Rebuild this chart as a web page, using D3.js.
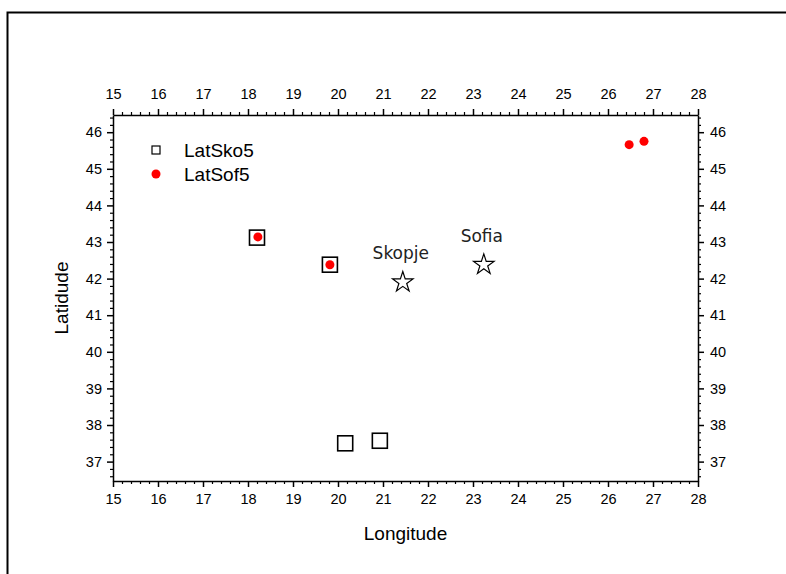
<!DOCTYPE html>
<html><head><meta charset="utf-8">
<script src="https://cdn.jsdelivr.net/npm/d3@7"></script>
<style>body{margin:0;background:#fff}svg{display:block}</style>
</head><body>
<script>
const xTicks = [15,16,17,18,19,20,21,22,23,24,25,26,27,28];
const yTicks = [37,38,39,40,41,42,43,44,45,46];
const skoLon = [18.2, 19.82, 20.16, 20.93];
const skoLat = [43.12, 42.38, 37.5, 37.57];
const sofLon = [18.22, 19.82, 26.47, 26.8];
const sofLat = [43.14, 42.38, 45.66, 45.75];
const cityNames = ["Skopje", "Sofia"];
const cityLon = [21.44, 23.24];
const cityLat = [41.9, 42.38];
const seriesNames = ["LatSko5", "LatSof5"];

const W = 786, H = 574;
const svg = d3.select("body").append("svg").attr("width", W).attr("height", H);
const L = 113, R = 698, T = 115, B = 481;
const x = d3.scaleLinear().domain([15, 28]).range([L, R]);
const y = d3.scaleLinear().domain([36.47, 46.47]).range([B, T]);

// outer frame
svg.append("path").attr("d", `M7.5,${H+5} V12.5 H${W+5}`).attr("fill","none").attr("stroke","#000").attr("stroke-width",2);

const font = "Liberation Sans, Arial, sans-serif";
const minorX = d3.range(15, 28.001, 0.2).map(v => +v.toFixed(2)).filter(v => Math.abs(v - Math.round(v)) > 1e-6);
const minorY = d3.range(36.6, 46.47, 0.2).map(v => +v.toFixed(2)).filter(v => Math.abs(v - Math.round(v)) > 1e-6);

const axes = [
  {fn: d3.axisBottom(x).tickValues(xTicks).tickSize(6).tickSizeOuter(0).tickPadding(7), tr:`translate(0,${B})`, minor: d3.axisBottom(x).tickValues(minorX).tickSize(3).tickFormat("")},
  {fn: d3.axisTop(x).tickValues(xTicks).tickSize(6).tickSizeOuter(0).tickPadding(10), tr:`translate(0,${T})`, minor: d3.axisTop(x).tickValues(minorX).tickSize(3).tickFormat("")},
  {fn: d3.axisLeft(y).tickValues(yTicks).tickSize(6).tickSizeOuter(0).tickPadding(5), tr:`translate(${L},0)`, minor: d3.axisLeft(y).tickValues(minorY).tickSize(3).tickFormat("")},
  {fn: d3.axisRight(y).tickValues(yTicks).tickSize(6).tickSizeOuter(0).tickPadding(6), tr:`translate(${R},0)`, minor: d3.axisRight(y).tickValues(minorY).tickSize(3).tickFormat("")}
];
axes.forEach(a => {
  const gm = svg.append("g").attr("transform", a.tr).call(a.minor);
  gm.select(".domain").remove();
  gm.selectAll(".tick line").attr("stroke","#000").attr("stroke-width",1.2);
  const g = svg.append("g").attr("transform", a.tr).call(a.fn);
  g.selectAll("text").attr("font-family", font).attr("font-size", 14.5).attr("fill", "#000");
  g.selectAll(".domain").attr("stroke","#000").attr("stroke-width",1.5);
  g.selectAll(".tick line").attr("stroke","#000").attr("stroke-width",1.5);
});

// axis titles
svg.append("text").attr("x", (L+R)/2).attr("y", 540).attr("text-anchor","middle")
  .attr("font-family", font).attr("font-size", 19).text("Longitude");
svg.append("text").attr("transform", `translate(68,298) rotate(-90)`).attr("text-anchor","middle")
  .attr("font-family", font).attr("font-size", 19).text("Latidude");

// squares
const sq = 15;
svg.append("g").selectAll("rect").data(skoLon.map((v,i)=>[v, skoLat[i]])).join("rect")
  .attr("x", d => x(d[0]) - sq/2).attr("y", d => y(d[1]) - sq/2)
  .attr("width", sq).attr("height", sq).attr("fill","none").attr("stroke","#000").attr("stroke-width",1.6);
// dots
svg.append("g").selectAll("circle").data(sofLon.map((v,i)=>[v, sofLat[i]])).join("circle")
  .attr("cx", d => x(d[0])).attr("cy", d => y(d[1])).attr("r", 4.5).attr("fill","#ff0000");

// stars
const star = d3.symbol().type(d3.symbolStar).size(130);
const cities = cityNames.map((n,i)=>({n, lon: cityLon[i], lat: cityLat[i]}));
svg.append("g").selectAll("path").data(cities).join("path")
  .attr("d", star).attr("transform", d => `translate(${x(d.lon)},${y(d.lat)})`)
  .attr("fill","#fff").attr("stroke","#000").attr("stroke-width",1.2);
svg.append("g").selectAll("text").data(cities).join("text")
  .attr("x", d => x(d.lon) - 2).attr("y", d => y(d.lat) - 23).attr("text-anchor","middle")
  .attr("font-family","DejaVu Sans, Verdana, sans-serif").attr("font-size", 17).attr("fill","#222")
  .text(d => d.n);

// legend
const lg = svg.append("g");
lg.append("rect").attr("x", 152).attr("y", 146).attr("width", 8).attr("height", 8)
  .attr("fill","none").attr("stroke","#000").attr("stroke-width",1.2);
lg.append("circle").attr("cx", 156).attr("cy", 174).attr("r", 4.5).attr("fill","#ff0000");
lg.selectAll("text").data(seriesNames).join("text")
  .attr("x", 184).attr("y", (d,i) => 157 + i*24).attr("font-family", font).attr("font-size", 19).text(d => d);
</script>
</body></html>
